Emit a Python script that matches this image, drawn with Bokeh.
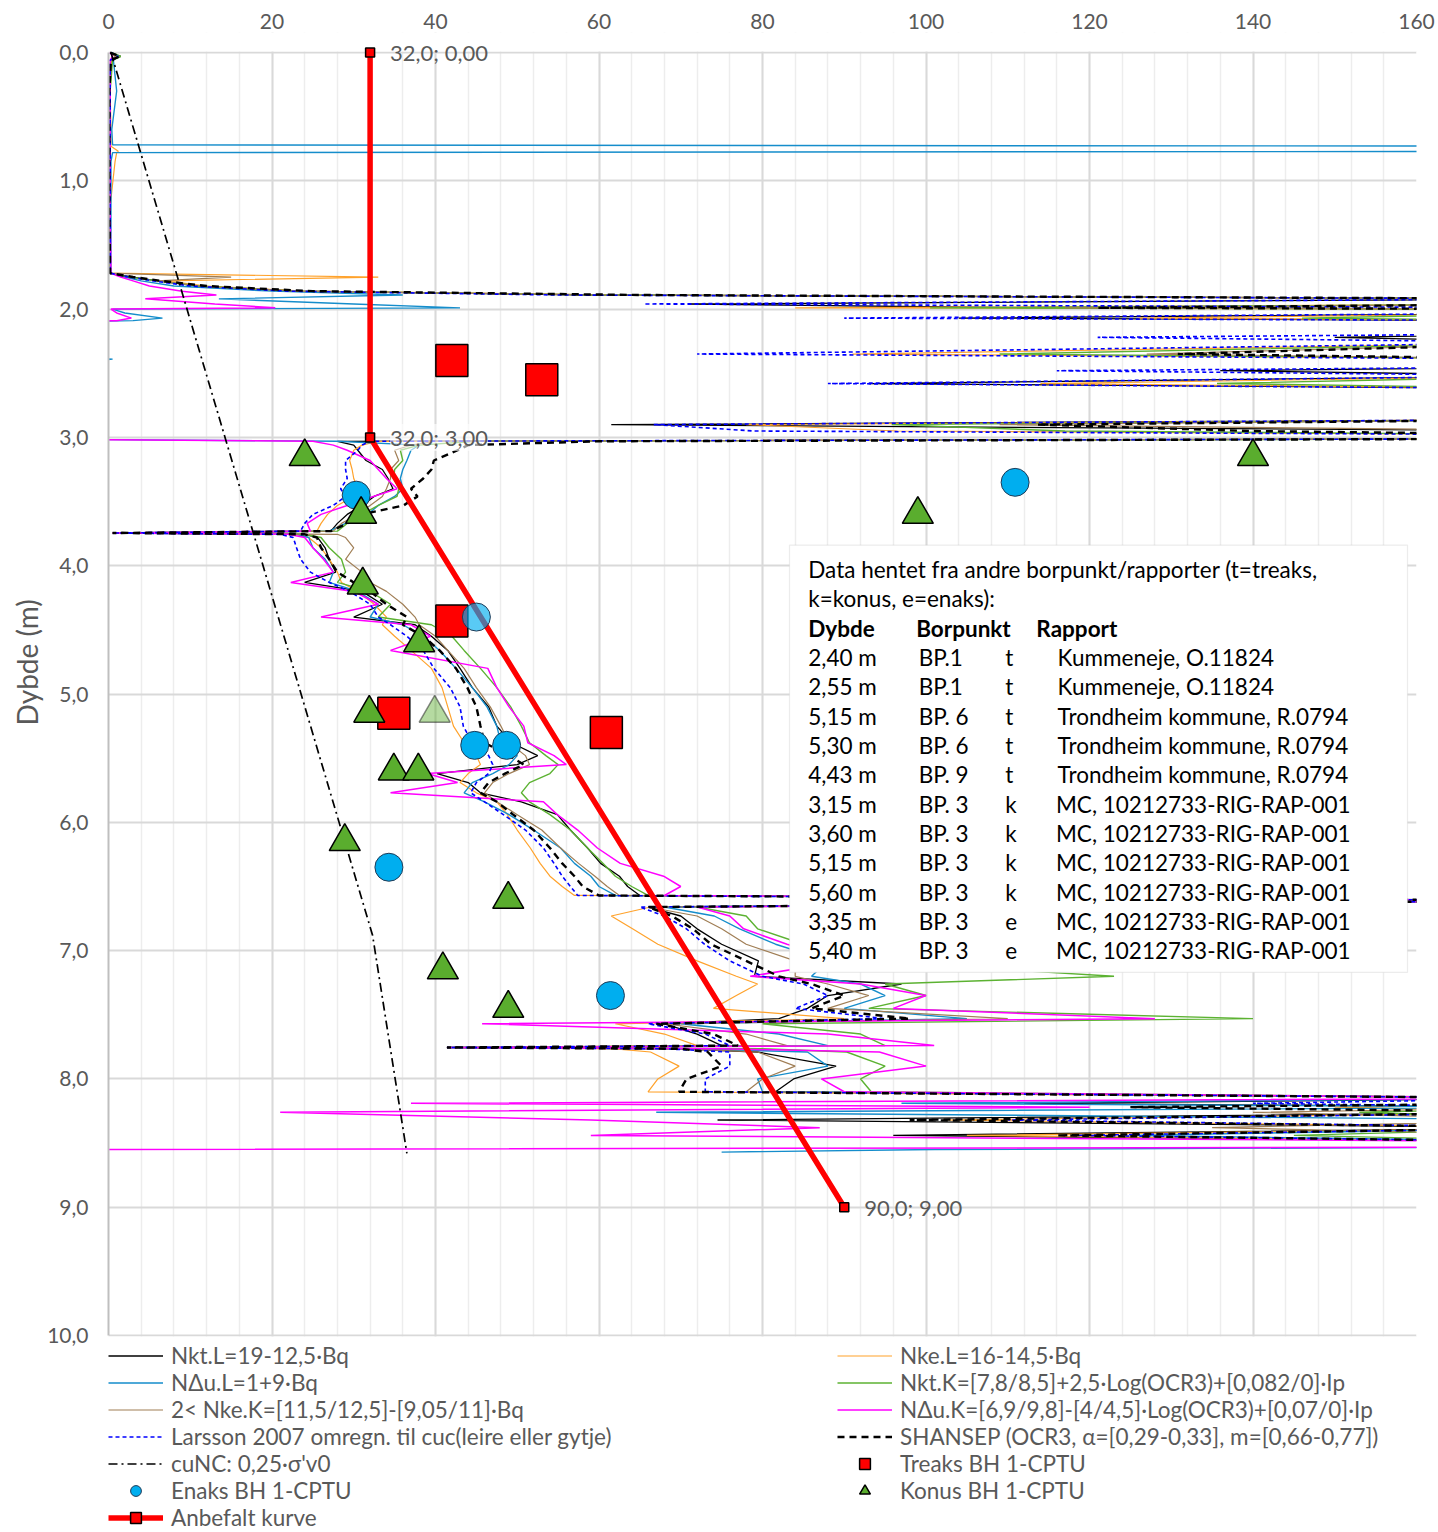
from bokeh.plotting import figure
from bokeh.models import (Range1d, FixedTicker, Legend, LegendItem, Label, Title,
                          BoxAnnotation, ColumnDataSource)
from bokeh.embed import file_html
from bokeh.resources import INLINE

FONT = "Lato"
GREY = "#595959"

# ---------------- axes / ticks ----------------
X_TICKS = [0, 20, 40, 60, 80, 100, 120, 140, 160]
X_MINOR = [0, 4, 8, 12, 16, 20, 24, 28, 32, 36, 40, 44, 48, 52, 56, 60, 64, 68, 72, 76, 80,
           84, 88, 92, 96, 100, 104, 108, 112, 116, 120, 124, 128, 132, 136, 140, 144, 148,
           152, 156, 160]
Y_TICKS = [0, 1, 2, 3, 4, 5, 6, 7, 8, 9, 10]
Y_TICK_LABELS = ["0,0", "1,0", "2,0", "3,0", "4,0", "5,0", "6,0", "7,0", "8,0", "9,0", "10,0"]

# ---------------- CPTU derived curves (common depth grid, m) ----------------
DEPTH = [0.00, 0.03, 0.06, 0.30, 0.60, 0.72, 0.73, 0.77, 0.78, 0.85, 1.20, 1.72,
         1.75, 1.78, 1.82, 1.86, 1.89, 1.92,
         1.96, 1.99, 2.00, 2.03, 2.07, 2.09, 2.11, 2.19, 2.22, 2.26, 2.35, 2.39, 2.45, 2.48,
         2.52, 2.58, 2.62, 2.86, 2.90, 2.95, 2.98, 3.01,
         3.03, 3.06, 3.10, 3.18, 3.25, 3.32, 3.40, 3.46, 3.53, 3.60, 3.67, 3.73, 3.745,
         3.755, 3.78, 3.86, 3.95, 4.05, 4.13, 4.20, 4.30, 4.40, 4.46, 4.55, 4.66, 4.80, 4.95,
         5.10, 5.25, 5.38, 5.48, 5.55, 5.62, 5.69, 5.77, 5.84, 5.94, 6.06, 6.20, 6.32, 6.42,
         6.50, 6.57,
         6.61, 6.66, 6.73, 6.83, 6.95, 7.08, 7.20, 7.26, 7.35, 7.45, 7.53, 7.57, 7.65, 7.74,
         7.755, 7.765, 7.79, 7.90, 8.00, 8.10,
         8.15, 8.19, 8.22, 8.26, 8.32, 8.38, 8.44, 8.49, 8.53, 8.55, 8.57]

NKT_L = [0.2, 1.5, 0.3, 0.1, 0.1, 0.1, 0.1, 0.1, 0.1, 0.1, 0.1, 0.2,
         3, 6, 11, 23.5, 60, 180,
         71, 112, 180, 180, 104, 180, 180, 180, 150, 180, 180, 180, 180, 136, 180, 93, 180,
         180, 61.5, 180, 180, 180,
         28, 30, 30.5, 31.5, 33.5, 34.2, 34.8, 32.5, 31, 29.2, 28, 27.2, 0.5,
         24, 25.6, 26.5, 27, 27.8, 24, 31, 33.5, 30, 37.5, 39.5, 41.5, 43, 44.5, 46.5, 47.5,
         49.3, 52.5, 50, 40.2, 44, 45.5, 50.5, 54.9, 56.5, 58.6, 60.2, 62.5, 63.5, 65,
         180, 66, 70, 72, 75, 79.5, 79, 97, 88, 85.5, 82, 68, 72, 75, 41.4, 70, 79.4, 89,
         83.8, 81.6,
         180, 112, 180, 180, 74.5, 180, 96, 180, 180, 180, 180]

NKE_L = [0.2, 1.0, 0.4, 0.2, 0.3, 0.3, 0.3, 1.2, 1.0, 0.8, 0.2, 0.2,
         33, 7, 12, 24, 62, 180,
         180, 84, 180, 180, 126, 180, 180, 180, 180, 180, 91, 180, 180, 180, 180, 114, 180,
         180, 78, 96.5, 180, 180,
         33, 31, 30, 29.5, 29.8, 30, 30.5, 30, 28, 26.8, 26, 25.5, 0.5,
         23, 24.5, 26, 27, 28, 28.5, 30.5, 32.5, 34, 33.5, 35, 37, 39.5, 40.8, 41.5, 42.2,
         43.5, 45, 45.5, 44, 43, 45, 47.5, 48.8, 50, 51.6, 52.8, 54, 55.5, 57,
         180, 66.3, 61.5, 64.1, 67.2, 72, 76.8, 79.4, 76.8, 74, 90, 62, 68, 72, 41.4, 62,
         66.3, 69.8, 67.2, 66,
         180, 180, 150, 180, 102, 180, 105, 180, 180, 180, 180]

NDU_L = [0.3, 1.2, 0.6, 1.0, 0.4, 0.5, 180, 180, 0.5, 0.3, 0.3, 0.3,
         2, 4, 8, 20, 36, 13.5,
         30, 43, 0.5, 2, 6.6, 3, -15, -15, -15, -15, -15, 0.5, -15, -15, -15, -15, -15,
         -15, -15, -15, -15, -15,
         28, 38, 37, 36.5, 36, 35.7, 36, 35, 33, 31.7, 29, 27, 0.5,
         23, 24.5, 25, 26.5, 27.5, 27, 30.5, 33, 32, 36, 38.5, 40.5, 42.5, 44.5, 46.3, 47.5,
         48, 50, 49, 47, 44.5, 43.5, 46, 49, 52, 55.3, 57, 59, 60, 62,
         180, 68, 74.1, 77.2, 81.6, 88, 86, 92, 95, 90, 105, 70, 82, 88, 41.4, 72, 85.5, 88,
         79.4, 80,
         180, 97, 180, 67, 180, 180, 125, 180, 180, 101, 75]

NKT_K = [0.3, 1.5, 0.5, 0.2, 0.2, 0.2, 0.2, 0.2, 0.2, 0.2, 0.2, 0.2,
         2.5, 6, 11, 23, 60, 180,
         180, 100.5, 180, 180, 146, 180, 180, 180, 180, 180, 109, 180, 180, 180, 180, 135.6,
         180, 180, 95.8, 117, 180, 180,
         45, 38, 35.7, 36, 35, 34.9, 35.5, 35.3, 33, 31, 29.2, 28, 0.5,
         24, 26, 27, 28.5, 29, 28, 32, 34.5, 33, 39.5, 42, 43.5, 45.5, 47.5, 49.2, 50.5,
         51.5, 53.5, 55, 54, 51.5, 50.5, 51.5, 54, 56.5, 58.6, 60.5, 62, 64, 66,
         180, 72, 78, 79.4, 85, 92, 123, 95, 100, 93, 140, 80, 92, 95, 41.4, 80, 90.3, 95,
         92, 93.3,
         180, 180, 180, 153, 180, 180, 145, 180, 180, 180, 180]

NKE_K = [0.3, 0.8, 0.3, 0.2, 0.2, 0.2, 0.2, 0.2, 0.2, 0.2, 0.2, 0.2,
         15, 6, 11, 23, 60, 180,
         180, 117, 180, 180, 180, 180, 180, 180, 180, 180, 127, 180, 180, 180, 180, 180,
         180, 180, 109, 180, 180, 180,
         40, 37, 35, 35.5, 34.5, 34.5, 34, 33.5, 32, 30.5, 28.5, 27.5, 0.5,
         28, 29, 30, 29, 31, 32, 34, 36, 37.5, 38, 40, 41.5, 43.5, 45, 46.7, 48, 49, 51,
         51.5, 49, 47, 46, 47.5, 50, 53, 55.3, 57.5, 59.5, 61, 62.5,
         180, 66, 72, 75, 78, 84, 84, 88, 93, 88, 110, 68, 78, 83, 41.4, 70, 79.4, 84, 80, 78,
         180, 180, 180, 140, 180, 135, 180, 180, 180, 180, 180]

NDU_K = [0.2, 0.5, 0.2, 0.2, 0.2, 0.2, 0.2, 0.2, 0.2, 0.2, 0.2, 0.3,
         1.5, 3, 5, 9, 13.2, 4.5,
         13, 20.4, 0.3, 1, 2.8, 1, -15, -15, -15, -15, -15, -15, -15, -15, -15, -15, -15,
         -15, -15, -15, -15, -15,
         25, 27.5, 29.2, 32, 33, 34, 35.3, 32.4, 29.2, 26, 24.3, 24.7, 0.5,
         22, 24, 25, 26.3, 27.5, 22.3, 30, 33, 26, 37, 39.4, 34.5, 46.4, 47.5, 49, 50.8,
         51.3, 54.5, 56, 39, 42.7, 34.5, 53.2, 54.9, 57.4, 59.8, 62.6, 67.9, 70, 68,
         180, 72, 76, 77.7, 83, 90, 78.5, 92, 100, 96, 128, 45.7, 88, 101, 41.4, 75, 94.3,
         100, 87.2, 90,
         180, 37, 120, 21, 59, 87, 59, 180, 180, -10, -10]

LARSSON = [0.3, 1.2, 0.2, 0.2, 0.2, 0.2, 0.2, 0.2, 0.2, 0.2, 0.2, 0.2,
           2.5, 5.5, 10, 22, 55, 180,
           65.5, 180, 180, 180, 90, 180, 180, 180, 121, 180, 72, 180, 180, 116, 180, 88, 180,
           180, 66.7, 79, 180, 180,
           32, 31, 30.5, 29, 29, 29.2, 28.4, 29, 27.5, 25, 24, 23.5, 0.5,
           21, 22.6, 23, 23.5, 24.7, 27, 29.5, 32, 33, 34.5, 36.5, 38.5, 39.8, 41.8, 43,
           43.4, 44.5, 46.5, 47, 46.5, 45, 44.3, 46, 48.3, 51, 53.2, 54.5, 55.5, 56.5, 57.4,
           180, 65, 68, 70.7, 72.9, 76, 80, 85, 88, 84, 95, 66, 73, 76, 41.4, 68, 76, 76, 73, 73,
           180, 140, 180, 180, 110, 180, 118, 180, 180, 180, 180]

SHANSEP = [0.2, 1.4, 0.3, 0.1, 0.1, 0.1, 0.1, 0.1, 0.1, 0.1, 0.1, 0.2,
           3, 6.5, 12, 25, 65, 180,
           180, 121, 180, 180, 180, 180, 180, 180, 180, 180, 130.8, 180, 180, 180, 180, 180,
           180, 180, 113.6, 139.7, 180, 180,
           60, 44, 42.7, 39.8, 39.5, 38.5, 37, 37.8, 36.1, 31, 29.2, 27.2, 0.5,
           24, 25.5, 26, 27, 28, 30, 32, 34, 36.5, 36, 38.5, 40.5, 42.5, 43.9, 45, 45.5, 46,
           49, 50.8, 48.5, 46.5, 45.5, 47.5, 49.5, 52, 54, 55.5, 57, 58, 60,
           180, 66, 68.9, 71.5, 73.7, 78, 82, 86, 90, 86, 98, 67, 74, 77, 41.4, 70, 73.3, 75,
           70.7, 69.8,
           180, 180, 125, 180, 98, 180, 116, 180, 180, 180, 180]

for _c in (NKT_L, NKE_L, NDU_L, NKT_K, NKE_K, NDU_K, LARSSON, SHANSEP):
    assert len(_c) == len(DEPTH), (len(_c), len(DEPTH))

# cuNC line
CUNC_D = [0.0, 6.88, 8.58]
CUNC_X = [0.3, 32.3, 36.5]

# lab points BH 1-CPTU (and other boreholes)
TREAKS_X = [42.0, 53.0, 42.0, 34.9, 60.9]
TREAKS_D = [2.40, 2.55, 4.43, 5.15, 5.30]
ENAKS_X = [30.3, 110.9, 45.0, 44.8, 48.7, 34.3, 61.4]
ENAKS_D = [3.45, 3.35, 4.40, 5.40, 5.40, 6.35, 7.35]
ENAKS_ALPHA = [1, 1, 0.65, 1, 1, 1, 1]
KONUS_X = [24.0, 30.9, 140.0, 99.0, 31.1, 38.0, 31.9, 39.9, 34.9, 37.9, 28.9, 48.9, 40.9, 48.9]
KONUS_D = [3.15, 3.60, 3.15, 3.60, 4.15, 4.60, 5.15, 5.15, 5.60, 5.60, 6.15, 6.60, 7.15, 7.45]
KONUS_ALPHA = [1, 1, 1, 1, 1, 1, 1, 0.45, 1, 1, 1, 1, 1, 1]

# recommended curve
ANB_X = [32.0, 32.0, 90.0]
ANB_D = [0.0, 3.0, 9.0]

# text box table
BOX_TITLE = ["Data hentet fra andre borpunkt/rapporter (t=treaks,", "k=konus, e=enaks):"]
BOX_HEAD = ["Dybde", "Borpunkt", "Rapport"]
BOX_DYBDE = ["2,40 m", "2,55 m", "5,15 m", "5,30 m", "4,43 m", "3,15 m", "3,60 m",
             "5,15 m", "5,60 m", "3,35 m", "5,40 m"]
BOX_BP = ["BP.1", "BP.1", "BP. 6", "BP. 6", "BP. 9", "BP. 3", "BP. 3", "BP. 3", "BP. 3",
          "BP. 3", "BP. 3"]
BOX_TYPE = ["t", "t", "t", "t", "t", "k", "k", "k", "k", "e", "e"]
BOX_RAPPORT = ["Kummeneje, O.11824", "Kummeneje, O.11824", "Trondheim kommune, R.0794",
               "Trondheim kommune, R.0794", "Trondheim kommune, R.0794",
               "MC, 10212733-RIG-RAP-001", "MC, 10212733-RIG-RAP-001",
               "MC, 10212733-RIG-RAP-001", "MC, 10212733-RIG-RAP-001",
               "MC, 10212733-RIG-RAP-001", "MC, 10212733-RIG-RAP-001"]

# ---------------- figure ----------------
# the frame gets a little headroom above 0 m and room below 10 m for the legend;
# both margins are painted white so the visible chart area stays 0–10 m.
Y_TOP = -0.156
Y_BOTTOM = 11.535
p = figure(width=1438, height=1532, x_range=Range1d(0, 160),
           y_range=Range1d(Y_BOTTOM, Y_TOP),
           x_axis_location="above", output_backend="svg", toolbar_location=None,
           min_border_left=108, min_border_top=32, min_border_right=22,
           min_border_bottom=0)
p.background_fill_color = "white"
p.border_fill_color = "white"
p.outline_line_color = None

p.xaxis.ticker = FixedTicker(ticks=X_TICKS, minor_ticks=X_MINOR)
p.yaxis.ticker = FixedTicker(ticks=Y_TICKS)
p.yaxis.major_label_overrides = dict(zip(Y_TICKS, Y_TICK_LABELS))
for ax in (p.xaxis[0], p.yaxis[0]):
    ax.major_tick_line_color = None
    ax.minor_tick_line_color = None
    ax.major_tick_out = 0
    ax.major_tick_in = 0
    ax.major_label_text_font = FONT
    ax.major_label_text_font_size = "21px"
    ax.major_label_text_color = GREY
p.xaxis.axis_line_color = None
p.yaxis.axis_line_color = "#BFBFBF"
p.yaxis.axis_line_width = 2
p.yaxis.bounds = (0, 10)
p.xaxis.major_label_standoff = 0
p.yaxis.major_label_standoff = 20

# y-axis title as a side title so it can sit at the same height as in the original
p.add_layout(Title(text="Dybde (m)", align="left", offset=807, standoff=2,
                   text_font=FONT, text_font_size="28px", text_font_style="normal",
                   text_color=GREY), "left")

p.xgrid.grid_line_color = "#D9D9D9"
p.xgrid.grid_line_width = 2
p.xgrid.minor_grid_line_color = "#EDEDED"
p.xgrid.minor_grid_line_width = 1.5
p.ygrid.grid_line_color = "#D9D9D9"
p.ygrid.grid_line_width = 2

# white strips outside 0–10 m (cover the grid there)
p.add_layout(BoxAnnotation(left=0, right=160, top=Y_TOP, bottom=-0.007,
                           fill_color="white", fill_alpha=1.0, line_color=None,
                           level="underlay"))
p.add_layout(BoxAnnotation(left=0, right=160, top=10.008, bottom=Y_BOTTOM,
                           fill_color="white", fill_alpha=1.0, line_color=None,
                           level="underlay"))

curve_specs = [
    ("Nkt.L=19-12,5·Bq", NKT_L, "#000000", 1.3, "solid"),
    ("Nke.L=16-14,5·Bq", NKE_L, "#FFA22B", 1.2, "solid"),
    ("NΔu.L=1+9·Bq", NDU_L, "#158DCB", 1.4, "solid"),
    ("Nkt.K=[7,8/8,5]+2,5·Log(OCR3)+[0,082/0]·Ip", NKT_K, "#5CB232", 1.4, "solid"),
    ("2< Nke.K=[11,5/12,5]-[9,05/11]·Bq", NKE_K, "#A07E55", 1.2, "solid"),
    ("NΔu.K=[6,9/9,8]-[4/4,5]·Log(OCR3)+[0,07/0]·Ip", NDU_K, "#FF00FF", 1.5, "solid"),
    ("Larsson 2007 omregn. til cuc(leire eller gytje)", LARSSON, "#0000FF", 1.6, "4 3"),
    ("SHANSEP (OCR3, α=[0,29-0,33], m=[0,66-0,77])", SHANSEP, "#000000", 2.4, "7 5"),
]
rend = {}
for name, vals, col, lw, dash in curve_specs:
    src = ColumnDataSource(dict(x=vals, d=DEPTH))
    rend[name] = p.line("x", "d", source=src, line_color=col, line_width=lw,
                        line_dash=dash)

rend["cunc"] = p.line(CUNC_X, CUNC_D, line_color="black", line_width=1.7,
                      line_dash="9 4 2 4")

anb_line = p.line(ANB_X, ANB_D, line_color="#FF0000", line_width=5.5)
anb_pts = p.scatter(ANB_X, ANB_D, marker="square", size=9, fill_color="#FF0000",
                    line_color="black", line_width=1.5)

treaks = p.scatter(TREAKS_X, TREAKS_D, marker="square", size=32, fill_color="#FF0000",
                   line_color="#000000", line_width=1.5)
enaks_src = ColumnDataSource(dict(x=ENAKS_X, d=ENAKS_D, a=ENAKS_ALPHA))
enaks = p.scatter("x", "d", source=enaks_src, marker="circle", size=28,
                  fill_color="#00AEEF", fill_alpha="a", line_color="#1F3B57",
                  line_width=1)
konus_src = ColumnDataSource(dict(x=KONUS_X, d=KONUS_D, a=KONUS_ALPHA))
konus = p.scatter("x", "d", source=konus_src, marker="triangle", size=31,
                  fill_color="#5AAD2E", fill_alpha="a", line_color="#000000",
                  line_alpha="a", line_width=1.5)

# point labels of recommended curve
for xv, dv in zip(ANB_X, ANB_D):
    txt = ("%.1f; %.2f" % (xv, dv)).replace(".", ",")
    lab = Label(x=xv, y=dv, text=txt, x_offset=20, text_baseline="middle",
                text_font=FONT, text_font_size="22px", text_color=GREY)
    if dv == 3.0:
        lab.background_fill_color = "white"
        lab.background_fill_alpha = 0.6
    p.add_layout(lab)

# ---------------- text box ----------------
p.add_layout(BoxAnnotation(left=83.3, right=158.9, top=3.84, bottom=7.17,
                           fill_color="white", fill_alpha=1.0,
                           line_color="#BFBFBF", line_width=1.2))
ROW0 = 4.03
STEP = 0.2285
def box_label(x, row, text, bold=False):
    p.add_layout(Label(x=x, y=ROW0 + row * STEP, text=text, text_baseline="middle",
                       text_font=FONT, text_font_size="22.5px", text_color="black",
                       text_font_style="bold" if bold else "normal"))
box_label(85.6, 0, BOX_TITLE[0])
box_label(85.6, 1, BOX_TITLE[1])
box_label(85.6, 2, BOX_HEAD[0], True)
box_label(98.8, 2, BOX_HEAD[1], True)
box_label(113.5, 2, BOX_HEAD[2], True)
for i in range(len(BOX_DYBDE)):
    r = 3 + i
    box_label(85.6, r, BOX_DYBDE[i])
    box_label(99.1, r, BOX_BP[i])
    box_label(109.7, r, BOX_TYPE[i])
    box_label(116.1 if BOX_TYPE[i] == "t" else 115.9, r, BOX_RAPPORT[i])

# ---------------- legend ----------------
n = [c[0] for c in curve_specs]
items = [
    LegendItem(label=n[0], renderers=[rend[n[0]]]),
    LegendItem(label=n[2], renderers=[rend[n[2]]]),
    LegendItem(label=n[4], renderers=[rend[n[4]]]),
    LegendItem(label=n[6], renderers=[rend[n[6]]]),
    LegendItem(label="cuNC: 0,25·σ'v0", renderers=[rend["cunc"]]),
    LegendItem(label="Enaks BH 1-CPTU", renderers=[enaks], index=0),
    LegendItem(label="Anbefalt kurve", renderers=[anb_line, anb_pts]),
    LegendItem(label=n[1], renderers=[rend[n[1]]]),
    LegendItem(label=n[3], renderers=[rend[n[3]]]),
    LegendItem(label=n[5], renderers=[rend[n[5]]]),
    LegendItem(label=n[7], renderers=[rend[n[7]]]),
    LegendItem(label="Treaks BH 1-CPTU", renderers=[treaks]),
    LegendItem(label="Konus BH 1-CPTU", renderers=[konus], index=0),
]
legend = Legend(items=items, ncols=2, location=(0, 1), orientation="vertical",
                glyph_width=55, glyph_height=27, label_height=27, label_width=666,
                label_standoff=8, spacing=0, padding=0, margin=0,
                border_line_color=None, background_fill_alpha=0,
                label_text_font=FONT, label_text_font_size="22.5px",
                label_text_color=GREY)
p.add_layout(legend, "center")

open("out.html", "w").write(file_html(p, INLINE))
